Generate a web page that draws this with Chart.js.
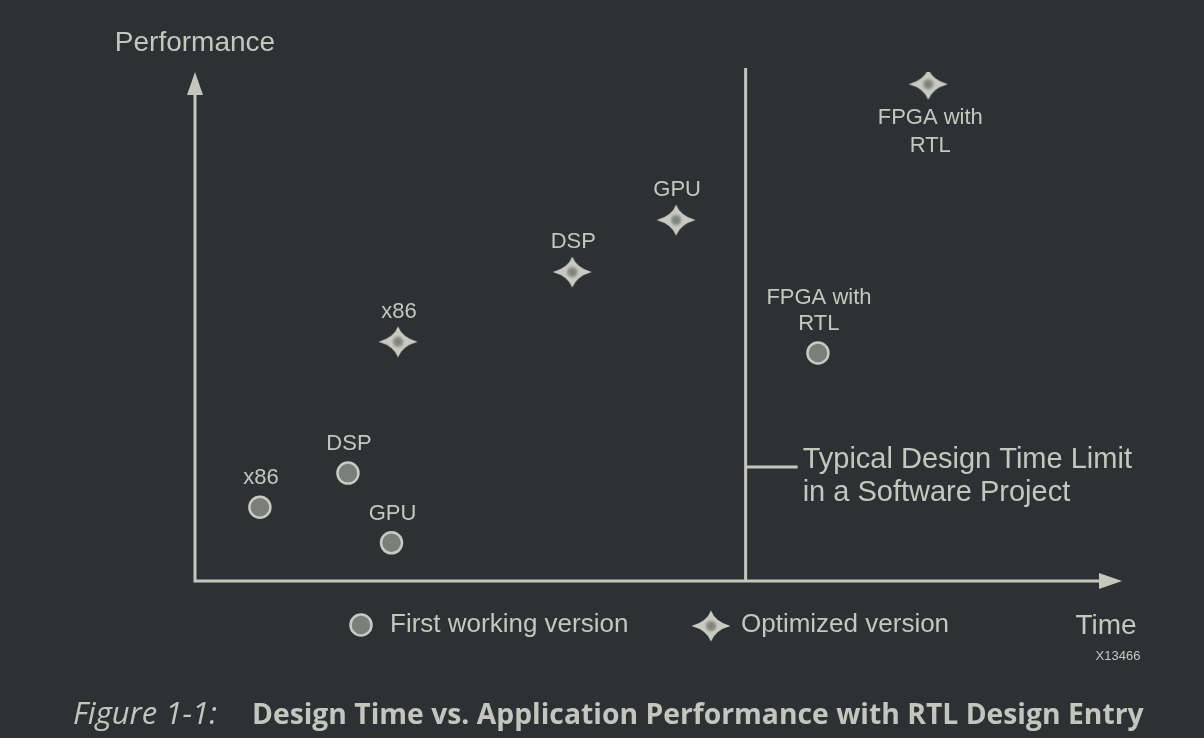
<!DOCTYPE html>
<html>
<head>
<meta charset="utf-8">
<script src="https://cdn.jsdelivr.net/npm/chart.js@4.4.0/dist/chart.umd.min.js"></script>
<style>
  html, body { margin: 0; padding: 0; background: #2d3134; }
  #wrap { position: relative; width: 1204px; height: 738px; }
  #c { position: absolute; left: 0; top: 0; }
  #caption { position: absolute; left: 73px; top: 692px; white-space: nowrap;
    color: #c3c5be; font-family: "Open Sans", "Noto Sans", sans-serif; line-height: 42px; }
  #caption .fig { font-style: italic; font-weight: 400; font-size: 31px; position: absolute; left: 0; top: -1px; }
  #caption .ttl { font-weight: 700; font-size: 28.3px; position: absolute; left: 179px; top: 0; }
</style>
</head>
<body>
<div id="wrap">
  <canvas id="c" width="1204" height="738"></canvas>
  <div id="caption"><span class="fig">Figure 1-1:</span><span class="ttl">Design Time vs. Application Performance with RTL Design Entry</span></div>
</div>
<script>
// ---- data (conceptual units: time 0..100, performance 0..100) ----
const seriesNames = ['First working version', 'Optimized version'];
const firstLabels = ['x86', 'DSP', 'GPU', 'FPGA with\nRTL'];
const firstTime   = [7.0, 16.5, 21.2, 67.2];
const firstPerf   = [14.5, 21.2, 7.5, 44.8];
const optLabels   = ['x86', 'DSP', 'GPU', 'FPGA with\nRTL'];
const optTime     = [21.9, 40.7, 51.9, 79.1];
const optPerf     = [47.0, 60.7, 70.9, 97.6];
const optLabelBelow = [false, false, false, true];
const designLimitTime = 59.4;
const designLimitText = ['Typical Design Time Limit', 'in a Software Project'];
const axisTitles = { x: 'Time', y: 'Performance' };
const figureId = 'X13466';

const FG = '#c5c7bf';
const FONT = '"Liberation Sans", Arial, sans-serif';

function makeStar(w, h) {
  const c = document.createElement('canvas');
  c.width = w; c.height = h;
  const g = c.getContext('2d');
  const cx = w / 2, cy = h / 2;
  const a = 4.2, b = 4.2;
  g.beginPath();
  g.moveTo(0.5, cy);
  g.quadraticCurveTo(cx - a, cy - b, cx, 0.5);
  g.quadraticCurveTo(cx + a, cy - b, w - 0.5, cy);
  g.quadraticCurveTo(cx + a, cy + b, cx, h - 0.5);
  g.quadraticCurveTo(cx - a, cy + b, 0.5, cy);
  g.closePath();
  g.fillStyle = '#c9cbc3';
  g.fill();
  const grad = g.createRadialGradient(cx, cy, 0, cx, cy, 8);
  grad.addColorStop(0, 'rgba(118,121,116,1)');
  grad.addColorStop(0.5, 'rgba(135,138,132,0.85)');
  grad.addColorStop(1, 'rgba(201,203,195,0)');
  g.globalCompositeOperation = 'source-atop';
  g.fillStyle = grad;
  g.fillRect(0, 0, w, h);
  return c;
}
const starImg = makeStar(40, 32);

const toXY = (xs, ys) => xs.map((x, i) => ({ x, y: ys[i] }));

const overlay = {
  id: 'overlay',
  afterDatasetsDraw(chart) {
    const ctx = chart.ctx;
    const xs = chart.scales.x, ys = chart.scales.y;
    const x0 = xs.getPixelForValue(0), y0 = ys.getPixelForValue(0);
    const xEnd = xs.getPixelForValue(xs.max), yEnd = ys.getPixelForValue(ys.max);
    ctx.save();
    ctx.strokeStyle = FG; ctx.fillStyle = FG; ctx.lineWidth = 3;
    // axes
    ctx.beginPath();
    ctx.moveTo(x0, y0); ctx.lineTo(xEnd - 20, y0);
    ctx.moveTo(x0, y0 + 1.5); ctx.lineTo(x0, yEnd + 20);
    ctx.stroke();
    ctx.beginPath();
    ctx.moveTo(xEnd, y0); ctx.lineTo(xEnd - 23, y0 - 8); ctx.lineTo(xEnd - 23, y0 + 8); ctx.closePath();
    ctx.fill();
    ctx.beginPath();
    ctx.moveTo(x0, yEnd); ctx.lineTo(x0 - 8, yEnd + 23); ctx.lineTo(x0 + 8, yEnd + 23); ctx.closePath();
    ctx.fill();
    // design time limit
    const lx = xs.getPixelForValue(designLimitTime);
    ctx.beginPath();
    ctx.moveTo(lx, y0); ctx.lineTo(lx, yEnd - 4);
    ctx.stroke();
    const ty = 467;
    ctx.beginPath();
    ctx.moveTo(lx, ty); ctx.lineTo(lx + 52, ty);
    ctx.stroke();
    ctx.textBaseline = 'middle'; ctx.textAlign = 'left';
    ctx.font = '29px ' + FONT;
    ctx.fillText(designLimitText[0], lx + 57, 460);
    ctx.fillText(designLimitText[1], lx + 57, 493);
    // axis titles
    ctx.font = '28px ' + FONT; ctx.textAlign = 'center';
    ctx.fillText(axisTitles.y, x0, 43);
    ctx.fillText(axisTitles.x, xEnd - 16, 626);
    ctx.font = '13px ' + FONT;
    ctx.fillText(figureId, xEnd - 4, 656);
    // point labels
    const drawLabels = (di, labels, below, fs) => {
      const meta = chart.getDatasetMeta(di);
      ctx.font = fs + 'px ' + FONT; ctx.textAlign = 'center';
      meta.data.forEach((el, i) => {
        const lines = labels[i].split('\n');
        const lh = 26;
        if (below && below[i]) {
          lines.forEach((ln, k) => ctx.fillText(ln, el.x + 2, el.y + 34 + k * 28));
        } else {
          const off = di === 0 ? 29 : 30;
          lines.forEach((ln, k) => ctx.fillText(ln, el.x + 1, el.y - off - (lines.length - 1 - k) * lh));
        }
      });
    };
    drawLabels(0, firstLabels, null, 22);
    drawLabels(1, optLabels, optLabelBelow, 22);
    // legend
    ctx.font = '26px ' + FONT; ctx.textAlign = 'left';
    const ly = 625;
    ctx.beginPath(); ctx.arc(361, ly, 10.5, 0, Math.PI * 2);
    ctx.fillStyle = '#7b7e79'; ctx.fill();
    ctx.lineWidth = 2.5; ctx.strokeStyle = '#c8cac2'; ctx.stroke();
    ctx.fillStyle = FG;
    ctx.fillText(chart.data.datasets[0].label, 390, ly);
    ctx.drawImage(starImg, 711 - 20, ly + 1 - 16);
    ctx.fillText(chart.data.datasets[1].label, 741, ly);
    ctx.restore();
  }
};

new Chart(document.getElementById('c'), {
  type: 'scatter',
  data: {
    datasets: [
      { label: seriesNames[0], data: toXY(firstTime, firstPerf),
        pointStyle: 'circle', pointRadius: 10.5, pointHoverRadius: 10.5,
        backgroundColor: '#7b7e79', borderColor: '#c8cac2', borderWidth: 2.5 },
      { label: seriesNames[1], data: toXY(optTime, optPerf),
        pointStyle: starImg, pointRadius: 16 }
    ]
  },
  options: {
    responsive: false, animation: false,
    layout: { padding: { left: 195, right: 82, top: 72, bottom: 157 } },
    plugins: { legend: { display: false }, tooltip: { enabled: false } },
    scales: {
      x: { type: 'linear', min: 0, max: 100, display: false },
      y: { type: 'linear', min: 0, max: 100, display: false }
    }
  },
  plugins: [overlay]
});
</script>
</body>
</html>
